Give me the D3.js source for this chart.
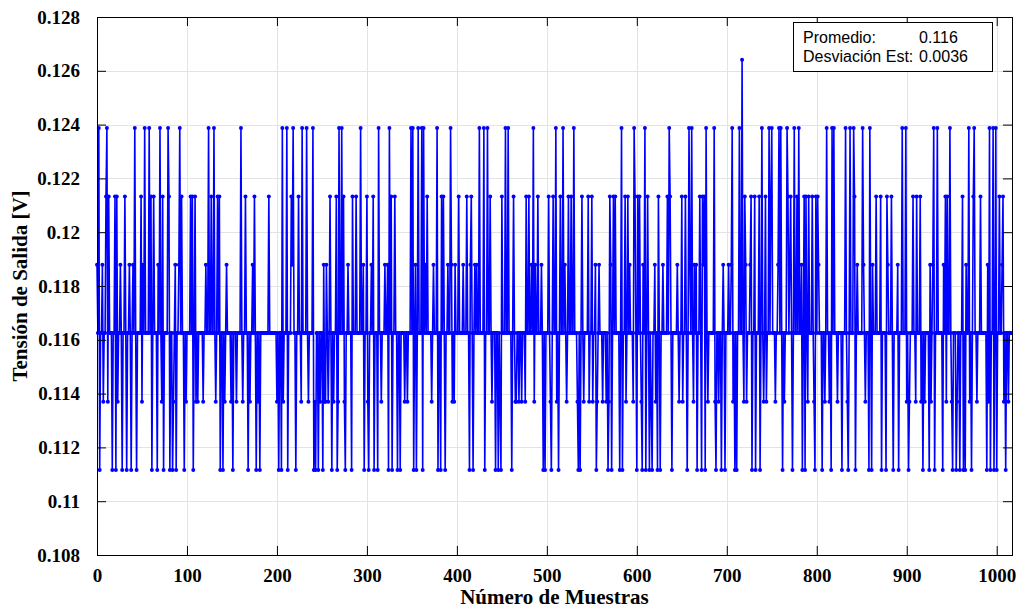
<!DOCTYPE html>
<html>
<head>
<meta charset="utf-8">
<script src="https://cdn.jsdelivr.net/npm/d3@7"></script>
<style>
  body { margin: 0; background: #fff; }
</style>
</head>
<body>
<svg id="chart" width="1026" height="610"></svg>
<script>
// quantised voltage levels (ADC steps)
var levels = [0.11116, 0.11370, 0.11625, 0.11879, 0.12133, 0.12387, 0.12641]

// one digit per sample = index into levels, 10 samples per chunk
var sampleCodes = [
  '3250223122', '4514222022', '4041223202', '2420223202', '3252022224',
  '1325222252', '4024222032', '5214022225', '4022012302', '2352422021',
  '2222424024', '1212222212', '2322522422', '5212424022', '0212322221',
  '2022212222', '5212242202', '1223242021', '2022222222', '2422222222',
  '1202205122', '2502224352', '2022422152', '2225212222', '5010220212',
  '2031132124', '2021224015', '2252410223', '2220422242', '2225223022',
  '4102232402', '2205221222', '3223052402', '2422022022', '2212212225',
  '2502302522', '2505232422', '2212322250', '2204242022', '3225312132',
  '2242222322', '2422034202', '3232252222', '5022522421', '2220220210',
  '4222522522', '2024211221', '2212221422', '4223251322', '4222320202',
  '2242102422', '5120242252', '3212422422', '5222102024', '2122224122',
  '4122301232', '2212221201', '4302424222', '2025022412', '4232221542',
  '0424210325', '0242021022', '3120420223', '2222425420', '2222232122',
  '4122420253', '2521323022', '4204340521', '2222225102', '2122023202',
  '2232235120', '2022522621', '4312223402', '2402224025', '2124122524',
  '5222122352', '5202122542', '3420252242', '5223024042', '1422242104',
  '2432220221', '2522120525', '2221222202', '2252102522', '2540232222',
  '2532122205', '2032224222', '2402222043', '2224202222', '3022252225',
  '1201222422', '1422241202', '1222203123', '5022522222', '0324142252',
  '1022201220', '2240203225', '1202452212', '2242222220', '3150225025',
  '0224223412', '0221222'
]

var xTicks = [0, 100, 200, 300, 400, 500, 600, 700, 800, 900, 1000]
var yTicks = [0.108, 0.11, 0.112, 0.114, 0.116, 0.118, 0.12, 0.122, 0.124, 0.126, 0.128]
var statLabels = ['Promedio:', 'Desviación Est:']
var statValues = ['0.116', '0.0036']

var samples = sampleCodes.join('').split('').map(function(c, i) {
  return { n: i, v: levels[+c] }
})

var svg = d3.select('#chart'),
  mLeft = 97, mRight = 1012, mTop = 17, mBottom = 555

var x = d3.scaleLinear().domain([0, 1017]).range([mLeft, mRight])
var y = d3.scaleLinear().domain([0.108, 0.128]).range([mBottom, mTop])

var fmtY = function(d) { return d3.format('.3~f')(d) }
var fmtX = d3.format('d')

// grid
var grid = svg.append('g').attr('stroke', '#e3e3e3').attr('stroke-width', 1)
grid.selectAll('.gx').data(xTicks.slice(1)).enter().append('line')
  .attr('x1', function(d) { return Math.round(x(d)) + 0.5 })
  .attr('x2', function(d) { return Math.round(x(d)) + 0.5 })
  .attr('y1', mTop).attr('y2', mBottom)
grid.selectAll('.gy').data(yTicks.slice(1, -1)).enter().append('line')
  .attr('y1', function(d) { return Math.round(y(d)) + 0.5 })
  .attr('y2', function(d) { return Math.round(y(d)) + 0.5 })
  .attr('x1', mLeft).attr('x2', mRight)

// data line + markers
var line = d3.line()
  .x(function(d) { return x(d.n) })
  .y(function(d) { return y(d.v) })

svg.append('path')
  .datum(samples)
  .attr('d', line)
  .attr('fill', 'none')
  .attr('stroke', '#0000ff')
  .attr('stroke-width', 1.6)
  .attr('stroke-linejoin', 'round')

svg.append('g').selectAll('circle')
  .data(samples)
  .enter().append('circle')
  .attr('cx', function(d) { return x(d.n) })
  .attr('cy', function(d) { return y(d.v) })
  .attr('r', 2)
  .attr('fill', '#0000ff')

// axes (MATLAB style: ticks inside, box on)
var tickLen = 9
var axBottom = svg.append('g').attr('transform', 'translate(0,' + mBottom + ')')
  .call(d3.axisBottom(x).tickValues(xTicks).tickFormat(fmtX).tickSizeInner(-tickLen).tickSizeOuter(0).tickPadding(14))
var axTop = svg.append('g').attr('transform', 'translate(0,' + mTop + ')')
  .call(d3.axisTop(x).tickValues(xTicks).tickSizeInner(-tickLen).tickSizeOuter(0).tickFormat(''))
var axLeft = svg.append('g').attr('transform', 'translate(' + mLeft + ',0)')
  .call(d3.axisLeft(y).tickValues(yTicks).tickFormat(fmtY).tickSizeInner(-tickLen).tickSizeOuter(0).tickPadding(17))
var axRight = svg.append('g').attr('transform', 'translate(' + mRight + ',0)')
  .call(d3.axisRight(y).tickValues(yTicks).tickSizeInner(-tickLen).tickSizeOuter(0).tickFormat(''))

;[axBottom, axTop, axLeft, axRight].forEach(function(a) {
  a.select('.domain').remove()
  a.selectAll('line').attr('stroke', '#000')
  a.selectAll('text')
    .attr('fill', '#000')
    .style('font-family', '"Liberation Serif", "Times New Roman", serif')
    .style('font-weight', 'bold')
    .style('font-size', '19px')
})

svg.append('rect')
  .attr('x', mLeft + 0.5).attr('y', mTop + 0.5)
  .attr('width', mRight - mLeft).attr('height', mBottom - mTop)
  .attr('fill', 'none').attr('stroke', '#000').attr('stroke-width', 1)

// axis titles
svg.append('text')
  .attr('x', (mLeft + mRight) / 2).attr('y', 604)
  .attr('text-anchor', 'middle')
  .style('font-family', '"Liberation Serif", "Times New Roman", serif')
  .style('font-weight', 'bold').style('font-size', '21px')
  .text('Número de Muestras')

svg.append('text')
  .attr('transform', 'translate(27,' + (mTop + mBottom) / 2 + ') rotate(-90)')
  .attr('text-anchor', 'middle')
  .style('font-family', '"Liberation Serif", "Times New Roman", serif')
  .style('font-weight', 'bold').style('font-size', '21px')
  .text('Tensión de Salida [V]')

// stats box
var box = svg.append('g')
box.append('rect')
  .attr('x', 793.5).attr('y', 22.5).attr('width', 199).attr('height', 49)
  .attr('fill', '#fff').attr('stroke', '#000').attr('stroke-width', 1)

statLabels.forEach(function(s, i) {
  box.append('text')
    .attr('x', 803).attr('y', 43 + i * 19)
    .style('font-family', '"Liberation Sans", Arial, sans-serif')
    .style('font-size', '16px')
    .text(s)
  box.append('text')
    .attr('x', 919).attr('y', 43 + i * 19)
    .style('font-family', '"Liberation Sans", Arial, sans-serif')
    .style('font-size', '16px')
    .text(statValues[i])
})
</script>
</body>
</html>
